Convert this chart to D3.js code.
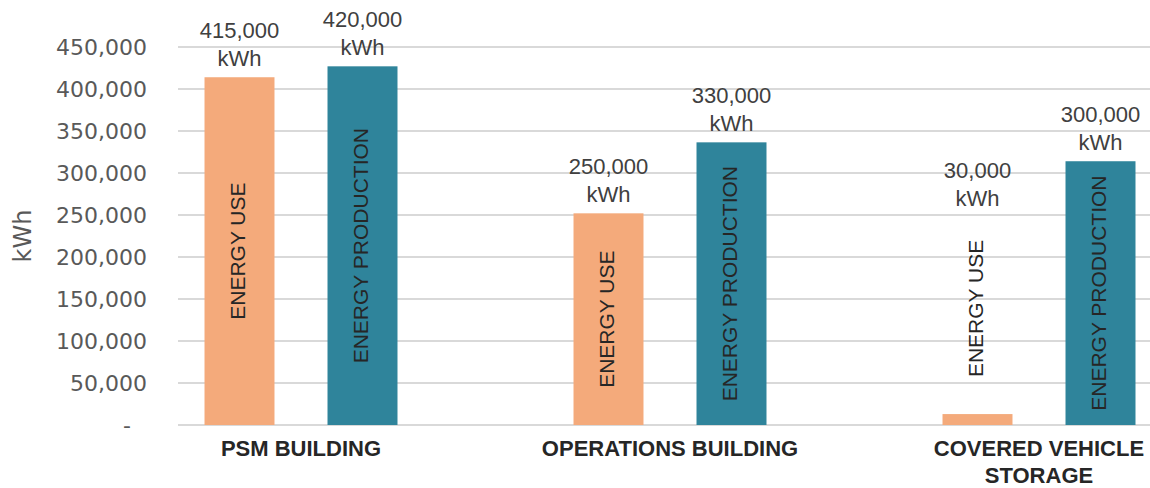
<!DOCTYPE html>
<html>
<head>
<meta charset="utf-8">
<script src="https://cdn.jsdelivr.net/npm/d3@7"></script>
<style>
  body { margin: 0; background: #fff; }
  svg { display: block; }
</style>
</head>
<body>
<svg width="1150" height="488"></svg>
<script>
const categories = ["PSM BUILDING", "OPERATIONS BUILDING", "COVERED VEHICLE STORAGE"];
const series = ["ENERGY USE", "ENERGY PRODUCTION"];
const energyUse = [414000, 252000, 13000];
const energyProduction = [427000, 336500, 314000];
const useLabels = ["415,000", "250,000", "30,000"];
const productionLabels = ["420,000", "330,000", "300,000"];
const yTicks = [0, 50000, 100000, 150000, 200000, 250000, 300000, 350000, 400000, 450000];
const colors = ["#F4AA7B", "#2F849B"];

const svg = d3.select("svg");
const width = +svg.attr("width");
const height = +svg.attr("height");
const margin = { top: 47, left: 178, bottom: 63 };
const plotHeight = height - margin.top - margin.bottom;
// the plot area runs past the right edge of the picture (third category is cut)
const plotWidth = 1107;

const values = [energyUse, energyProduction];
const valueLabels = [useLabels, productionLabels];

const x0 = d3.scaleBand().domain(categories).range([0, plotWidth]);
const x1 = d3.scaleBand().domain(series).range([0, 246]).paddingInner(0.431).paddingOuter(0.2155);
const y = d3.scaleLinear().domain([0, 450000]).range([plotHeight, 0]);

const plot = svg.append("g")
    .attr("transform", `translate(${margin.left},${margin.top})`);

// gridlines
plot.append("g")
    .selectAll("line")
    .data(yTicks)
    .join("line")
    .attr("x1", 0)
    .attr("x2", width - margin.left)
    .attr("y1", d => y(d))
    .attr("y2", d => y(d))
    .attr("stroke", "#d9d9d9")
    .attr("stroke-width", 2);

// y axis
const yAxis = plot.append("g")
    .call(d3.axisLeft(y)
        .tickValues(yTicks)
        .tickSize(0)
        .tickPadding(31)
        .tickFormat(d => d === 0 ? "-" : d3.format(",")(d)));
yAxis.select(".domain").remove();
yAxis.selectAll("text")
    .attr("font-family", "DejaVu Sans")
    .attr("font-size", 22)
    .attr("fill", "#595959");
yAxis.selectAll(".tick").filter(d => d === 0).select("text").attr("dx", -16);

svg.append("text")
    .attr("transform", `translate(31,${margin.top + plotHeight / 2}) rotate(-90)`)
    .attr("text-anchor", "middle")
    .attr("font-family", "DejaVu Sans")
    .attr("font-size", 24)
    .attr("fill", "#595959")
    .text("kWh");

// bars
const bars = [];
categories.forEach((c, i) => {
    series.forEach((s, j) => {
        bars.push({ cat: c, ser: s, j: j, value: values[j][i], label: valueLabels[j][i] });
    });
});

const barG = plot.selectAll(".bar")
    .data(bars)
    .join("g")
    .attr("class", "bar")
    .attr("transform", d => `translate(${x0(d.cat) + x1(d.ser)},0)`);

barG.append("rect")
    .attr("x", 0)
    .attr("y", d => y(d.value))
    .attr("width", x1.bandwidth())
    .attr("height", d => y(0) - y(d.value))
    .attr("fill", d => colors[d.j]);

barG.each(function (d) {
    const g = d3.select(this);
    const cx = x1.bandwidth() / 2;
    const top = y(d.value);
    const h = y(0) - top;

    const name = g.append("text")
        .attr("text-anchor", "middle")
        .attr("dy", "0.25em")
        .attr("font-family", "Liberation Sans, Arial, sans-serif")
        .attr("font-size", 21)
        .attr("fill", "#262626")
        .text(d.ser);
    const len = name.node().getComputedTextLength();

    let cy, labelBase;
    if (len + 20 <= h) {
        cy = top + h / 2;
        labelBase = top - 11;
    } else {
        // bar too short: put the series name above it
        cy = top - 37 - len / 2;
        labelBase = cy - len / 2 - 34;
    }
    name.attr("transform", `translate(${cx},${cy}) rotate(-90)`);

    const lab = g.append("text")
        .attr("text-anchor", "middle")
        .attr("font-family", "Liberation Sans, Arial, sans-serif")
        .attr("font-size", 22)
        .attr("fill", "#404040");
    lab.append("tspan").attr("x", cx).attr("y", labelBase - 28).text(d.label);
    lab.append("tspan").attr("x", cx).attr("y", labelBase).text("kWh");
});

// category labels, wrapped
const catG = plot.selectAll(".cat")
    .data(categories)
    .join("text")
    .attr("class", "cat")
    .attr("text-anchor", "middle")
    .attr("font-family", "Liberation Sans, Arial, sans-serif")
    .attr("font-weight", "bold")
    .attr("font-size", 22)
    .attr("fill", "#262626");

catG.each(function (c) {
    const t = d3.select(this);
    const cx = x0(c) + 123;
    const words = c.split(" ");
    let line = [];
    let lines = [];
    const probe = t.append("tspan");
    words.forEach(w => {
        const test = line.concat(w).join(" ");
        probe.text(test);
        if (probe.node().getComputedTextLength() > 290 && line.length) {
            lines.push(line.join(" "));
            line = [w];
        } else {
            line.push(w);
        }
    });
    lines.push(line.join(" "));
    probe.remove();
    lines.forEach((l, k) => {
        t.append("tspan").attr("x", cx).attr("y", plotHeight + 31 + k * 27).text(l);
    });
});
</script>
</body>
</html>
